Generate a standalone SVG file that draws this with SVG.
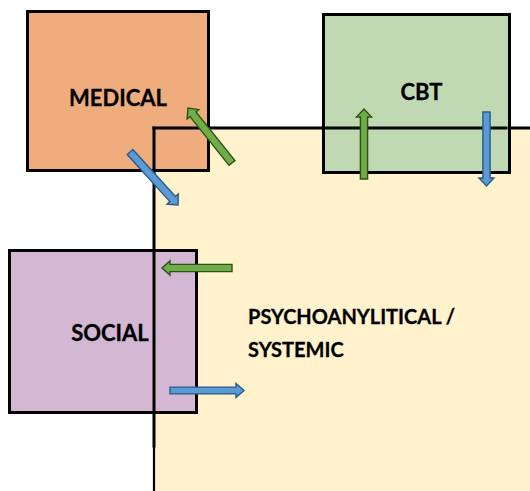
<svg xmlns="http://www.w3.org/2000/svg" width="530" height="491" viewBox="0 0 530 491">
  <style>
    .box { stroke: #000; stroke-width: 3; }
    .edge { stroke: #000; stroke-width: 3; fill: none; stroke-linecap: square; }
    .label { font-family: Lato, "Open Sans", "Liberation Sans", sans-serif; font-weight: bold; font-size: 20px; fill: #000; stroke: #000; stroke-width: 0.3; }
    .big { font-size: 22px; }
    .arrow-green { fill: #70AD47; stroke: #2A5218; stroke-width: 1.4; stroke-linejoin: miter; }
    .arrow-blue { fill: #5B9BD5; stroke: #2A5A88; stroke-width: 1.4; stroke-linejoin: miter; }
  </style>

  <rect width="530" height="491" fill="#FFFFFF"/>

  <!-- Central region: fill first, outline drawn later on top of the side boxes -->
  <g id="psychoanalytical">
    <rect x="154" y="128" width="376" height="363" fill="#FFF2CC"/>
  </g>

  <g id="medical">
    <rect class="box" x="27.5" y="11.5" width="181" height="159" fill="#EFAD7E"/>
    <text class="label big" x="118" y="106" text-anchor="middle">MEDICAL</text>
  </g>

  <g id="cbt">
    <rect class="box" x="323.5" y="14.5" width="186" height="158" fill="#C1D9B2"/>
    <text class="label big" x="421.5" y="100" text-anchor="middle">CBT</text>
  </g>

  <g id="social">
    <rect class="box" x="9.5" y="250.5" width="187" height="162" fill="#D4B7D3"/>
    <text class="label big" x="110" y="341" text-anchor="middle">SOCIAL</text>
  </g>

  <!-- Outline of the central region -->
  <g id="psychoanalytical-outline">
    <path class="edge" d="M154,128 H506"/>
    <path class="edge" d="M511,128 H530"/>
    <path class="edge" d="M154,128 V446"/>
    <path d="M154,446 V491" stroke="#000" stroke-width="2.2" fill="none"/>
    <text class="label" x="248" y="324">PSYCHOANYLITICAL /</text>
    <text class="label" x="248" y="357">SYSTEMIC</text>
  </g>

  <!-- Connectors: block arrows, each drawn along +x from its tail then rotated -->
  <g id="connectors">
    <polygon class="arrow-blue" transform="translate(130,152) rotate(47.8)" points="0,-3.8 63.5,-3.8 63.5,-7.5 71.5,0 63.5,7.5 63.5,3.8 0,3.8"/>
    <polygon class="arrow-green" transform="translate(232,163) rotate(-128.7)" points="0,-3.8 62.4,-3.8 62.4,-7.5 70.4,0 62.4,7.5 62.4,3.8 0,3.8"/>
    <polygon class="arrow-green" transform="translate(364,179) rotate(-90)" points="0,-3.6 62,-3.6 62,-7.5 70,0 62,7.5 62,3.6 0,3.6"/>
    <polygon class="arrow-blue" transform="translate(486.5,112) rotate(90)" points="0,-3.6 66,-3.6 66,-7.5 74,0 66,7.5 66,3.6 0,3.6"/>
    <polygon class="arrow-green" transform="translate(232,268) rotate(180)" points="0,-3.6 62,-3.6 62,-7.2 70,0 62,7.2 62,3.6 0,3.6"/>
    <polygon class="arrow-blue" transform="translate(170,390.5) rotate(0)" points="0,-3.4 66,-3.4 66,-7 74,0 66,7 66,3.4 0,3.4"/>
  </g>
</svg>
